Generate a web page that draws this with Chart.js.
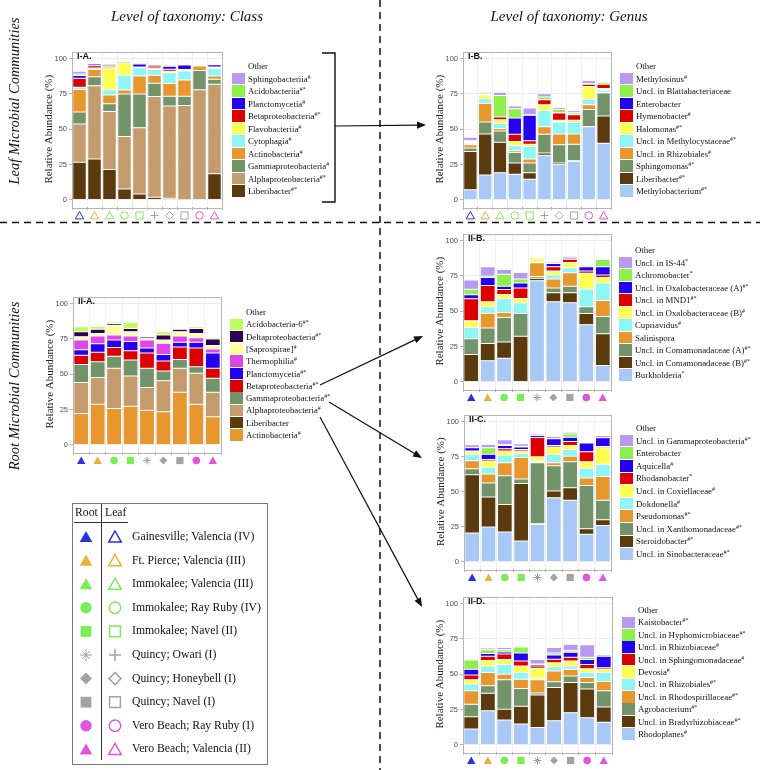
<!DOCTYPE html>
<html>
<head>
<meta charset="utf-8">
<script src="https://cdn.jsdelivr.net/npm/chart.js@4.4.0/dist/chart.umd.min.js"></script>
<style>
  body { margin: 0; background: #fff; }
  #page { position: relative; width: 760px; height: 770px; overflow: hidden; font-family: "Liberation Serif", serif; color: #111; }
  #deco { position: absolute; left: 0; top: 0; z-index: 0; }
  canvas.chart { position: absolute; z-index: 1; }
  .title { position: absolute; font-style: italic; font-size: 15px; white-space: nowrap; transform: translateX(-50%); }
  .side { position: absolute; font-style: italic; font-size: 14.5px; white-space: nowrap; transform: translate(-50%, -50%) rotate(-90deg); }
  .key { position: absolute; width: 13px; }
  .lab { position: absolute; font-size: 8.8px; line-height: 12px; white-space: nowrap; }
  .lab sup { font-size: 6px; vertical-align: top; position: relative; top: -2px; }
  .plabel { position: absolute; font: bold 9px "Liberation Sans", sans-serif; z-index: 2; }
  .site { position: absolute; font-size: 11.7px; line-height: 16px; white-space: nowrap; }
</style>
</head>
<body>
<div id="page">
  <canvas id="deco" width="760" height="770"></canvas>
  <div class="title" style="left:187px;top:8px;">Level of taxonomy: Class</div>
  <div class="title" style="left:569px;top:8px;">Level of taxonomy: Genus</div>
  <div class="side" style="left:14px;top:101px;">Leaf Microbial Communities</div>
  <div class="side" style="left:14px;top:386px;">Root Microbial Communities</div>
</div>
<script>
// ---- sites (x categories) ----
const sites = ['Gainesville; Valencia (IV)', 'Ft. Pierce; Valencia (III)', 'Immokalee; Valencia (III)', 'Immokalee; Ray Ruby (IV)',
  'Immokalee; Navel (II)', 'Quincy; Owari (I)', 'Quincy; Honeybell (I)', 'Quincy; Navel (I)', 'Vero Beach; Ray Ruby (I)', 'Vero Beach; Valencia (II)'];
const rootShapes = ['triangle', 'triangle', 'triangle', 'circle', 'square', 'asterisk', 'diamond', 'square', 'circle', 'triangle'];
const leafShapes = ['triangle', 'triangle', 'triangle', 'circle', 'square', 'plus', 'diamond', 'square', 'circle', 'triangle'];
const siteColors = ['#2a32e0', '#e9b23c', '#7ced55', '#7ced55', '#7ced55', '#a3a3a3', '#a3a3a3', '#a3a3a3', '#de55de', '#de55de'];
const rootSiteIdx = [0, 1, 3, 4, 5, 6, 7, 8, 9]; // no root sample for Immokalee; Valencia
const yTicks = [0, 25, 50, 75, 100];

// ---- I-A leaf, class ----
const leafClassNames = ['Liberibacter#*', 'Alphaproteobacteria#*', 'Gammaproteobacteria#', 'Actinobacteria#', 'Cytophagia#', 'Flavobacteriia#',
  'Betaproteobacteria#*', 'Planctomycetia#', 'Acidobacteriia#*', 'Sphingobacteriia#', 'Other'];
const leafClassValues = [
  [26.7, 29, 21.6, 7.7, 4.2, 1.9, 1.2, 0.2, 0.3, 18.6],
  [27, 51.7, 41, 37.1, 46.8, 71.2, 65.2, 66.6, 77.7, 63.3],
  [8.5, 6.5, 5.4, 30.2, 24, 9.5, 6.9, 6.5, 13.6, 3.5],
  [16, 5.1, 6.2, 2.7, 12.7, 5.6, 9.1, 11.6, 3.1, 2.3],
  [1.5, 0.8, 3.8, 10.5, 5.8, 4.1, 7.6, 6.3, 0.8, 5.3],
  [0, 0.3, 15.5, 8.8, 0.3, 1, 1, 0.5, 0, 0.5],
  [6.3, 1.5, 1, 1, 0.3, 1.4, 1.5, 0.5, 0.5, 0.5],
  [2, 1.2, 1, 0.3, 2, 1, 2, 3.2, 0.5, 1.6],
  [1, 0.8, 1, 0.3, 1, 0.5, 1, 0.3, 0.3, 0.3],
  [2, 0.5, 0.5, 0.3, 0.5, 0.5, 0.5, 0.6, 0.8, 0.3],
  [0, 0, 0, 0, 0, 0, 0, 0, 0, 0]
];

// ---- I-B leaf, genus ----
const leafGenusNames = ['Methylobacterium#*', 'Liberibacter#*', 'Sphingomonas#*', 'Uncl. in Rhizobiales#', 'Uncl. in Methylocystaceae#*',
  'Halomonas#*', 'Hymenobacter#', 'Enterobacter', 'Uncl. in Blattabacteriaceae', 'Methylosinus#', 'Other'];
const leafGenusValues = [
  [7.2, 17.6, 19.3, 18.1, 14.6, 31.6, 25.1, 27.4, 51.7, 40.1],
  [27.1, 29, 21.5, 8.1, 4.7, 1.6, 1.1, 0.3, 0.3, 19.3],
  [2.4, 8.6, 7.9, 7.4, 6.9, 13.2, 12.8, 11.7, 12, 16.2],
  [2.3, 13.2, 1.9, 1.2, 2.8, 5.3, 7.6, 7.2, 3.3, 0.5],
  [1.1, 3.1, 3.5, 3.5, 8.8, 11.6, 8.6, 8.2, 3.7, 1.6],
  [0.5, 2.7, 2.7, 3, 1.6, 4, 1.2, 1.6, 9.3, 1.2],
  [0.8, 0.5, 1.9, 5.1, 2.4, 3.5, 5.1, 3.9, 1.6, 3],
  [0, 0, 0, 11.6, 18.1, 0.3, 0.3, 0.3, 0.3, 0],
  [0.5, 0.5, 15.1, 6.5, 0.4, 1.8, 2.2, 1.1, 0.2, 1.2],
  [2.5, 1, 2.3, 1.9, 4.7, 2.3, 1.2, 1.4, 2, 0.3],
  [0, 0, 0, 0, 0, 0, 0, 0, 0, 0]
];

// ---- II-A root, class ----
const rootClassNames = ['Actinobacteria#', 'Liberibacter', 'Alphaproteobacteria#', 'Gammaproteobacteria#*', 'Betaproteobacteria#*',
  'Planctomycetia#*', 'Thermophilia#', '[Saprospirae]#', 'Deltaproteobacteria#*', 'Acidobacteria-6#*', 'Other'];
const rootClassValues = [
  [22.2, 28.7, 25.7, 27.3, 24.5, 23.4, 37.3, 28.7, 19.9],
  [0, 0, 0, 0, 0, 0, 0, 0, 0],
  [22, 19, 28.5, 21.5, 16.2, 22, 16.9, 22, 17.4],
  [12.7, 11.1, 8.5, 11.2, 13.5, 6.9, 6.2, 4.6, 9.9],
  [6.5, 6.7, 6.3, 6.7, 10.8, 7, 8.8, 13.2, 7],
  [4, 6, 5.3, 6.4, 3.5, 4.6, 3.5, 4.2, 10.8],
  [6.9, 5.6, 3.5, 4, 5.8, 8.1, 4.4, 3.2, 2.8],
  [2.3, 1.8, 6.9, 3, 1.2, 2.3, 3, 3, 2.6],
  [3.5, 3, 1.2, 2.3, 1.1, 3.5, 1.8, 3.5, 4.6],
  [3.5, 2.1, 1.1, 4.2, 0.7, 2.3, 0.5, 1.2, 0.9],
  [0, 0, 0, 0, 0, 0, 0, 0, 0]
];

// ---- II-B root, genus (Betaproteobacteria) ----
const rootBetaNames = ['Burkholderia*', 'Uncl. in Comamonadaceae (B)#*', 'Uncl. in Comamonadaceae (A)#*', 'Salinispora', 'Cupriavidus#',
  'Uncl. in Oxalobacteraceae (B)#', 'Uncl. in MND1#*', 'Uncl. in Oxalobacteraceae (A)#*', 'Achromobacter*', 'Uncl. in IS-44*', 'Other'];
const rootBetaValues = [
  [0, 15, 16.7, 0, 71.5, 56.7, 56, 40.5, 11.6],
  [19.4, 12.1, 11.5, 32.4, 1.9, 6.3, 7, 7.9, 22.4],
  [11.1, 11.1, 17.4, 16, 1.1, 3.4, 4.6, 4.8, 12.3],
  [0, 10.4, 3.5, 0, 9.8, 6.5, 9.7, 0, 11.3],
  [8.1, 4.6, 9.7, 7.6, 0.5, 2.8, 3.5, 12.5, 12.3],
  [4.6, 3.5, 3, 3, 2.5, 2.8, 3.7, 11.2, 3.9],
  [15.7, 11.6, 3.5, 7.4, 0.3, 3, 2.3, 1.6, 1.9],
  [2.8, 5.5, 2.3, 3.5, 0, 2.3, 0.9, 3, 5.8],
  [3.9, 1.2, 8.6, 3, 0, 0.3, 0, 1.1, 5.1],
  [6.5, 6.5, 3.4, 4.6, 0.8, 0.9, 1.2, 0.3, 0],
  [0, 0, 0, 0, 0, 0, 0, 0, 0]
];

// ---- II-C root, genus (Gammaproteobacteria) ----
const rootGammaNames = ['Uncl. in Sinobacteraceae#*', 'Steroidobacter#*', 'Uncl. in Xanthomonadaceae#*', 'Pseudomonas#*', 'Dokdonella#',
  'Uncl. in Coxiellaceae#', 'Rhodanobacter*', 'Aquicella#', 'Enterobacter', 'Uncl. in Gammaproteobacteria#*', 'Other'];
const rootGammaValues = [
  [20.7, 24.9, 21.4, 14.9, 26.7, 45.8, 44, 19.8, 26],
  [41.4, 21.4, 19.5, 40.9, 0.5, 4.7, 8.8, 3.9, 4],
  [4.2, 10, 20.5, 3.3, 43.5, 18.1, 18.6, 30.7, 14],
  [5.8, 6.3, 9.3, 15.3, 0.5, 2.1, 3.9, 5.4, 16.9],
  [4.6, 4.8, 5.3, 2.8, 0.7, 6, 4.7, 6.9, 8.6],
  [2.1, 4.5, 3.1, 1.9, 3, 5.2, 3, 4.7, 11.9],
  [0.3, 1.1, 1.6, 0.9, 13.7, 1.1, 2.8, 7, 0.9],
  [2.3, 3.7, 2.3, 1.9, 1.4, 4.7, 3, 6.3, 6.1],
  [0, 4.7, 0.5, 0.5, 0, 0.3, 2.4, 0, 0],
  [2.1, 2.3, 3.5, 1.8, 1.2, 1.3, 1.1, 0.3, 1.6],
  [0, 0, 0, 0, 0, 0, 0, 0, 0]
];

// ---- II-D root, genus (Alphaproteobacteria) ----
const rootAlphaNames = ['Rhodoplanes#', 'Uncl. in Bradyrhizobiaceae#*', 'Agrobacterium#*', 'Uncl. in Rhodospirillaceae#*', 'Uncl. in Rhizobiales#*',
  'Devosia#', 'Uncl. in Sphingomonadaceae#', 'Uncl. in Rhizobiaceae#', 'Uncl. in Hyphomicrobiaceae#*', 'Kaistobacter#*', 'Other'];
const rootAlphaValues = [
  [11.3, 24.1, 17.6, 14.8, 12.3, 17.1, 22.7, 19.2, 16],
  [8.6, 12.5, 7.6, 12.5, 23.1, 23.6, 21.5, 20.4, 10.9],
  [8.8, 5.3, 20.9, 12.7, 1.4, 4, 4.6, 4.6, 11.5],
  [9.7, 9.3, 3.9, 6.5, 9.3, 7.6, 4.7, 3.5, 6.5],
  [4.7, 4.6, 6.9, 4.7, 1.1, 3, 2.3, 3.5, 6.3],
  [3, 3.9, 3.5, 4.6, 7, 2.8, 3.5, 2.7, 2.3],
  [3.4, 3, 4, 3.5, 1.6, 2.5, 2.7, 3, 1.1],
  [4, 1.9, 1.3, 5.7, 1.1, 3, 3.5, 3.5, 8.1],
  [6.5, 2.8, 1.7, 4.2, 0.3, 1.5, 1.2, 1.6, 1.2],
  [0.3, 1.1, 1.6, 0.5, 3.2, 3.8, 4.6, 8.8, 0.3],
  [0, 0, 0, 0, 0, 0, 0, 0, 0]
];

// colours, bottom to top
const C = {
  brown: '#5b3a0d', tan: '#c49b6d', sage: '#73936a', orange: '#e8962e', cyan: '#8ff6f6', yellow: '#ffff50',
  red: '#dd0000', blue: '#2400ee', lgreen: '#8ef04c', lav: '#b99af0', lblue: '#a8c9f6', magenta: '#dd45ee',
  pale: '#ffff9c', purple: '#2c0052', ygreen: '#bdff5a', white: '#ffffff'
};
const genusColors = [C.lblue, C.brown, C.sage, C.orange, C.cyan, C.yellow, C.red, C.blue, C.lgreen, C.lav, C.white];
const leafClassColors = [C.brown, C.tan, C.sage, C.orange, C.cyan, C.yellow, C.red, C.blue, C.lgreen, C.lav, C.white];
const rootClassColors = [C.orange, C.brown, C.tan, C.sage, C.red, C.blue, C.magenta, C.pale, C.purple, C.ygreen, C.white];

const page = document.getElementById('page');

function drawShape(ctx, shape, filled, color, x, y, r) {
  ctx.save();
  ctx.fillStyle = color;
  ctx.strokeStyle = color;
  ctx.lineWidth = filled ? 1 : Math.max(1, r / 4);
  ctx.beginPath();
  if (shape === 'triangle') {
    ctx.moveTo(x, y - r);
    ctx.lineTo(x + r * 1.05, y + r * 0.85);
    ctx.lineTo(x - r * 1.05, y + r * 0.85);
    ctx.closePath();
  } else if (shape === 'circle') {
    ctx.arc(x, y, r * 0.95, 0, Math.PI * 2);
  } else if (shape === 'square') {
    ctx.rect(x - r * 0.9, y - r * 0.9, r * 1.8, r * 1.8);
  } else if (shape === 'diamond') {
    ctx.moveTo(x, y - r);
    ctx.lineTo(x + r, y);
    ctx.lineTo(x, y + r);
    ctx.lineTo(x - r, y);
    ctx.closePath();
  } else if (shape === 'plus') {
    ctx.moveTo(x - r, y); ctx.lineTo(x + r, y);
    ctx.moveTo(x, y - r); ctx.lineTo(x, y + r);
    ctx.stroke(); ctx.restore(); return;
  } else if (shape === 'asterisk') {
    ctx.lineWidth = 1;
    for (let k = 0; k < 4; k++) {
      const a = k * Math.PI / 4;
      ctx.moveTo(x - Math.cos(a) * r, y - Math.sin(a) * r);
      ctx.lineTo(x + Math.cos(a) * r, y + Math.sin(a) * r);
    }
    ctx.stroke(); ctx.restore(); return;
  }
  if (filled) ctx.fill(); else ctx.stroke();
  ctx.restore();
}

// frame + site markers under the x axis
const decor = {
  id: 'decor',
  afterDraw(chart, args, opts) {
    const { ctx, chartArea: a } = chart;
    ctx.save();
    ctx.strokeStyle = '#b5b5b5';
    ctx.lineWidth = 1;
    ctx.strokeRect(Math.round(a.left) + 0.5, Math.round(a.top) + 0.5, Math.round(a.right - a.left), Math.round(a.bottom - a.top));
    ctx.restore();
    opts.shapes.forEach((s, i) => {
      const x = chart.scales.x.getPixelForValue(i);
      drawShape(ctx, s, opts.filled, opts.colors[i], x, a.bottom + 8.5, 4);
    });
  }
};

function addLegend(x, yFirst, step, names, colors) {
  const n = names.length;
  for (let j = n - 1; j >= 0; j--) {
    const cy = yFirst + (n - 1 - j) * step;
    const key = document.createElement('div');
    key.className = 'key';
    key.style.left = x + 'px';
    key.style.top = (cy - step / 2 + 0.4) + 'px';
    key.style.height = (step - 0.8) + 'px';
    key.style.background = colors[j];
    page.appendChild(key);
    const m = names[j].match(/^(.*?)([#*]+)$/);
    const lab = document.createElement('div');
    lab.className = 'lab';
    lab.style.left = (x + 16) + 'px';
    lab.style.top = (cy - 6) + 'px';
    if (m) {
      lab.textContent = m[1];
      const sup = document.createElement('sup');
      sup.textContent = m[2];
      lab.appendChild(sup);
    } else {
      lab.textContent = names[j];
    }
    page.appendChild(lab);
  }
}

function makePanel(frame, tag, labels, shapes, filled, colorsX, names, values, colors, legend) {
  const padL = 34, padT = 4, padR = 2, padB = 20;
  const canvas = document.createElement('canvas');
  canvas.className = 'chart';
  canvas.width = frame.w + padL + padR;
  canvas.height = frame.h + padT + padB;
  canvas.style.left = (frame.x - padL) + 'px';
  canvas.style.top = (frame.y - padT) + 'px';
  page.appendChild(canvas);

  const pl = document.createElement('div');
  pl.className = 'plabel';
  pl.textContent = tag;
  pl.style.left = (frame.x + 5) + 'px';
  pl.style.top = (frame.y + 2) + 'px';
  page.appendChild(pl);

  new Chart(canvas, {
    type: 'bar',
    data: {
      labels: labels,
      datasets: names.map((n, i) => ({
        label: n,
        data: values[i],
        backgroundColor: colors[i],
        borderColor: 'rgba(255,255,255,0.45)',
        borderWidth: 0.5,
        borderSkipped: false,
        barPercentage: 0.9,
        categoryPercentage: 1
      }))
    },
    options: {
      responsive: false,
      animation: false,
      layout: { padding: { top: padT, right: padR, left: 0, bottom: 0 } },
      plugins: {
        legend: { display: false },
        tooltip: { enabled: false },
        decor: { shapes: shapes, filled: filled, colors: colorsX }
      },
      scales: {
        x: {
          stacked: true,
          offset: true,
          ticks: { display: false },
          grid: { color: '#f0f0f0', tickLength: 3, tickColor: '#b5b5b5' },
          border: { display: false },
          afterFit(s) { s.height = padB; }
        },
        y: {
          stacked: true,
          min: -5,
          max: 105,
          afterBuildTicks(s) { s.ticks = yTicks.map(v => ({ value: v })); },
          ticks: { font: { family: 'Liberation Sans', size: 7.5 }, color: '#4d4d4d', padding: 2 },
          grid: { color: '#ececec', tickLength: 3, tickColor: '#b5b5b5' },
          border: { display: false },
          title: { display: true, text: 'Relative Abundance (%)', color: '#222', font: { family: 'Liberation Serif', size: 11 }, padding: { top: 5, bottom: 0 } },
          afterFit(s) { s.width = padL; }
        }
      }
    },
    plugins: [decor]
  });
  addLegend(legend.x, legend.y, legend.step, names, colors);
}

const rootLabels = rootSiteIdx.map(i => sites[i]);
const rootShapeList = rootSiteIdx.map(i => rootShapes[i]);
const rootColorList = rootSiteIdx.map(i => siteColors[i]);

makePanel({ x: 72, y: 49, w: 150, h: 158 }, 'I-A.', sites, leafShapes, false, siteColors,
  leafClassNames, leafClassValues, leafClassColors, { x: 232, y: 66, step: 12.5 });
makePanel({ x: 463, y: 49, w: 148, h: 158 }, 'I-B.', sites, leafShapes, false, siteColors,
  leafGenusNames, leafGenusValues, genusColors, { x: 620, y: 66, step: 12.5 });
makePanel({ x: 73, y: 294, w: 148, h: 158 }, 'II-A.', rootLabels, rootShapeList, true, rootColorList,
  rootClassNames, rootClassValues, rootClassColors, { x: 230, y: 312, step: 12.3 });
makePanel({ x: 463, y: 231, w: 148, h: 158 }, 'II-B.', rootLabels, rootShapeList, true, rootColorList,
  rootBetaNames, rootBetaValues, genusColors, { x: 619, y: 250, step: 12.5 });
makePanel({ x: 464, y: 412, w: 147, h: 157 }, 'II-C.', rootLabels, rootShapeList, true, rootColorList,
  rootGammaNames, rootGammaValues, genusColors, { x: 620, y: 428, step: 12.6 });
makePanel({ x: 463, y: 594, w: 149, h: 158 }, 'II-D.', rootLabels, rootShapeList, true, rootColorList,
  rootAlphaNames, rootAlphaValues, genusColors, { x: 622, y: 610, step: 12.4 });

// ---- site legend box ----
const boxRowY = sites.map((s, i) => 537 + i * 23.6);
function addText(cls, text, x, y) {
  const d = document.createElement('div');
  d.className = cls;
  d.textContent = text;
  d.style.left = x + 'px';
  d.style.top = (y - 8) + 'px';
  page.appendChild(d);
}
addText('site', 'Root', 75, 513);
addText('site', 'Leaf', 105, 513);
sites.forEach((s, i) => addText('site', s, 132, boxRowY[i]));

// ---- lines, arrows, box ----
const dc = document.getElementById('deco').getContext('2d');
function arrow(x1, y1, x2, y2) {
  const ang = Math.atan2(y2 - y1, x2 - x1);
  const L = 9, W = 3.6;
  dc.beginPath();
  dc.moveTo(x1, y1);
  dc.lineTo(x2 - Math.cos(ang) * L * 0.8, y2 - Math.sin(ang) * L * 0.8);
  dc.stroke();
  dc.beginPath();
  dc.moveTo(x2, y2);
  dc.lineTo(x2 - Math.cos(ang) * L - Math.sin(ang) * W, y2 - Math.sin(ang) * L + Math.cos(ang) * W);
  dc.lineTo(x2 - Math.cos(ang) * L + Math.sin(ang) * W, y2 - Math.sin(ang) * L - Math.cos(ang) * W);
  dc.closePath();
  dc.fill();
}
dc.strokeStyle = '#111';
dc.fillStyle = '#111';
dc.lineWidth = 1.5;
dc.setLineDash([7, 5]);
dc.beginPath();
dc.moveTo(0, 222.5); dc.lineTo(760, 222.5);
dc.moveTo(380, 0); dc.lineTo(380, 770);
dc.stroke();
dc.setLineDash([]);

// bracket round the I-A legend
dc.lineWidth = 1.4;
dc.beginPath();
dc.moveTo(322, 53); dc.lineTo(335, 53); dc.lineTo(335, 202); dc.lineTo(322, 202);
dc.stroke();
dc.lineWidth = 1.2;
arrow(335, 126, 426, 125);
arrow(320, 385, 423, 336);
arrow(329, 402, 422, 458);
arrow(320, 417, 422, 607);

// site legend frame
dc.lineWidth = 1;
dc.strokeStyle = '#777';
dc.strokeRect(72.5, 503.5, 195, 261);
dc.strokeStyle = '#333';
dc.beginPath();
dc.moveTo(101.5, 504); dc.lineTo(101.5, 760);
dc.moveTo(74, 522.5); dc.lineTo(128, 522.5);
dc.stroke();
sites.forEach((s, i) => {
  drawShape(dc, rootShapes[i], true, siteColors[i], 86, boxRowY[i], 6);
  drawShape(dc, leafShapes[i], false, siteColors[i], 115, boxRowY[i], 6);
});
</script>
</body>
</html>
